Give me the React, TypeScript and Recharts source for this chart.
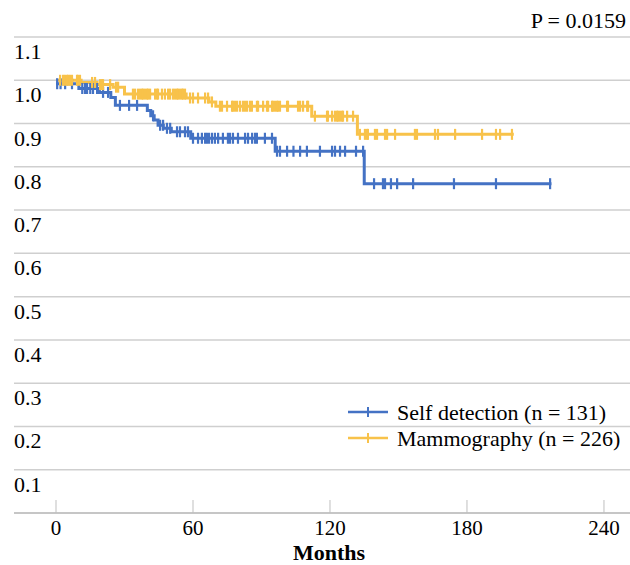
import React from 'react';
import { ComposedChart, Line, Scatter, XAxis, YAxis, CartesianGrid } from 'recharts';

// Kaplan-Meier step values (time in months, survival proportion)
const selfTimes = [0, 10, 19, 24, 26, 40, 41.5, 43, 44.7, 47, 50.5, 59, 96, 135, 217];
const selfSurv = [0.992, 0.981, 0.972, 0.96, 0.942, 0.93, 0.918, 0.908, 0.896, 0.889, 0.881, 0.866, 0.836, 0.761, 0.761];
const selfCensorTimes = [
  0.5, 2, 4, 7, 11.5, 12.7, 13.6, 15, 16.2, 18, 20.6, 22.8, 28, 32, 35.5,
  42.5, 45.6, 46.9, 48.6, 50, 53, 54.3, 56.5, 57.8, 60, 62.2, 63.9, 65.3, 66.1, 67,
  68.3, 69.6, 71, 73.1, 75.3, 76.2, 77.5, 79.7, 82.8, 84.1, 85.9, 87.2, 88, 91.5, 94.6,
  96.8, 98.1, 101.2, 104, 106.9, 109.9, 115.6, 120.9, 122.2, 124.4, 126.6, 131.4, 134.5,
  139.3, 143.2, 144.1, 146.7, 149.4, 156.4, 174.3, 192.7, 216.4,
];

const mammoTimes = [0, 11, 18, 25, 30, 57, 67, 70, 112, 132, 200.5];
const mammoSurv = [1.0, 0.995, 0.99, 0.984, 0.968, 0.959, 0.95, 0.94, 0.917, 0.875, 0.875];
const mammoCensorTimes = [
  1.8, 3.1, 3.9, 4.8, 5.3, 6.1, 7, 9.2, 9.6, 10.5, 15.8, 17.1, 19.3, 20.1, 20.6, 23.7, 26.3, 27.2,
  33.7, 34.6, 35.9, 36.8, 37.7, 38.1, 39, 39.9, 40.3, 41.2, 43.4, 44.2, 44.7, 46.4, 47.7, 49.1,
  49.9, 51.2, 52.1, 53, 53.4, 54.3, 55.2, 55.6, 56.5, 58.7, 60, 62.2, 65.3, 66.6, 68.3,
  71.8, 72.7, 74.9, 77.1, 77.5, 78.4, 79.3, 80.6, 81.9, 82.8, 83.7, 85, 85.8, 88, 88.5, 90.7,
  92.4, 92.9, 94.6, 95, 95.9, 96.8, 97.2, 98.1, 101.2, 101.6, 106, 106.9, 108.2, 110, 110.4,
  113.4, 118.7, 119.1, 120.9, 122.2, 123.1, 123.5, 124.4, 125.3, 125.7, 127.5, 130.1,
  133.1, 135.3, 136.2, 136.6, 139.7, 140.6, 144.1, 145, 148.5, 157.2, 158.1, 166, 167.3,
  174.8, 186.6, 192.7, 194.5, 199.7,
];

const xTicks = [0, 60, 120, 180, 240];
const yTicks = [0.1, 0.2, 0.3, 0.4, 0.5, 0.6, 0.7, 0.8, 0.9, 1.0, 1.1];
const seriesNames = ['Self detection (n = 131)', 'Mammography (n = 226)'];
const seriesColors = ['#4472C4', '#F8C24A'];
const pValueText = 'P = 0.0159';
const xAxisTitle = 'Months';

const FONT = 'Liberation Serif';
const textStyle = { fontFamily: FONT };

const buildCurve = (times: number[], surv: number[]) => times.map((t, i) => ({ t, s: surv[i] }));
const survAt = (times: number[], surv: number[], t: number) => {
  let s = surv[0];
  for (let i = 0; i < times.length; i++) if (times[i] <= t) s = surv[i];
  return s;
};
const buildCensor = (ct: number[], times: number[], surv: number[]) =>
  ct.map((t) => ({ t, s: survAt(times, surv, t) }));

const selfCurve = buildCurve(selfTimes, selfSurv);
const mammoCurve = buildCurve(mammoTimes, mammoSurv);
const selfCensor = buildCensor(selfCensorTimes, selfTimes, selfSurv);
const mammoCensor = buildCensor(mammoCensorTimes, mammoTimes, mammoSurv);

const censorShape = (color: string) => (props: any) => {
  const { cx, cy } = props;
  if (cx == null || cy == null) return <g />;
  return <line x1={cx} x2={cx} y1={cy - 5.5} y2={cy + 5.5} stroke={color} strokeWidth={2.2} />;
};

const YTick = (props: any) => {
  const { y, payload } = props;
  return (
    <text x={14} y={y + 22} fontSize={22} style={textStyle} fill="#000" textAnchor="start">
      {Number(payload.value).toFixed(1)}
    </text>
  );
};

const XTick = (props: any) => {
  const { x, y, payload } = props;
  return (
    <g>
      <line x1={x} x2={x} y1={y - 13} y2={y} stroke="#BFBFBF" strokeWidth={1} />
      <text x={x} y={y + 22} fontSize={21} style={textStyle} fill="#000" textAnchor="middle">
        {payload.value}
      </text>
    </g>
  );
};

export default function App() {
  return (
    <div style={{ position: 'absolute', left: 0, top: 0, width: 630, height: 565, background: '#fff' }}>
      <ComposedChart width={630} height={565} margin={{ top: 37, right: 0, bottom: 0, left: 13 }}>
        <CartesianGrid vertical={false} stroke="#CFCFCF" strokeWidth={1.5} />
        <XAxis
          dataKey="t"
          type="number"
          domain={[-18.4, 251.4]}
          ticks={xTicks}
          interval={0}
          height={52}
          tickSize={0}
          tickMargin={0}
          tickLine={false}
          axisLine={{ stroke: '#BFBFBF', strokeWidth: 1.5 }}
          tick={<XTick />}
        />
        <YAxis
          type="number"
          domain={[0, 1.1]}
          ticks={yTicks}
          interval={0}
          width={1}
          axisLine={false}
          tickLine={false}
          tick={<YTick />}
        />
        <Line
          data={selfCurve}
          dataKey="s"
          type="stepAfter"
          stroke={seriesColors[0]}
          strokeWidth={3}
          dot={false}
          activeDot={false}
          isAnimationActive={false}
        />
        <Scatter
          data={selfCensor}
          dataKey="s"
          shape={censorShape(seriesColors[0])}
          isAnimationActive={false}
        />
        <Line
          data={mammoCurve}
          dataKey="s"
          type="stepAfter"
          stroke={seriesColors[1]}
          strokeWidth={3}
          dot={false}
          activeDot={false}
          isAnimationActive={false}
        />
        <Scatter
          data={mammoCensor}
          dataKey="s"
          shape={censorShape(seriesColors[1])}
          isAnimationActive={false}
        />
      </ComposedChart>
      <svg
        width={630}
        height={565}
        style={{ position: 'absolute', left: 0, top: 0, pointerEvents: 'none' }}
      >
        <text x={626} y={28} fontSize={22} style={textStyle} fill="#000" textAnchor="end">
          {pValueText}
        </text>
        <text x={329} y={559.5} fontSize={22} fontWeight="bold" style={textStyle} fill="#000" textAnchor="middle">
          {xAxisTitle}
        </text>
        {seriesNames.map((name, i) => {
          const cy = 412 + i * 26;
          return (
            <g key={name}>
              <line x1={348} x2={388} y1={cy} y2={cy} stroke={seriesColors[i]} strokeWidth={2.5} />
              <line x1={368} x2={368} y1={cy - 5} y2={cy + 5} stroke={seriesColors[i]} strokeWidth={2} />
              <text x={397} y={cy + 7.5} fontSize={22} style={textStyle} fill="#000">
                {name}
              </text>
            </g>
          );
        })}
      </svg>
    </div>
  );
}
